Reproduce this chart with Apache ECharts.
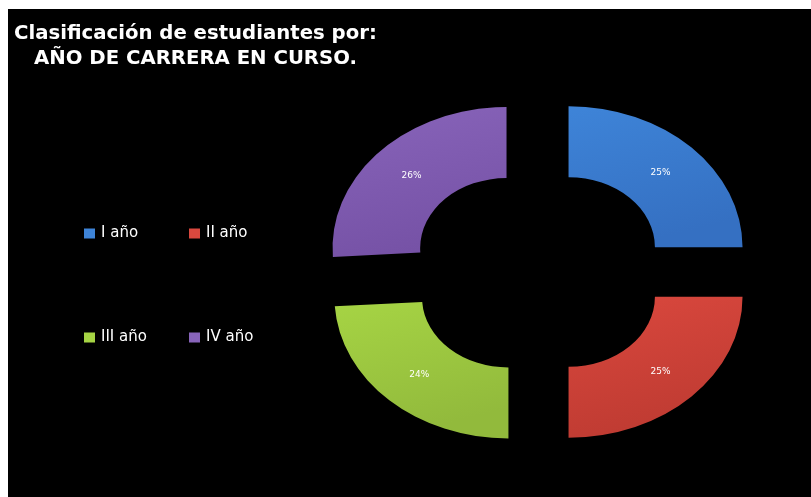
<!DOCTYPE html>
<html><head><meta charset="utf-8">
<script src="https://cdn.jsdelivr.net/npm/echarts@6/dist/echarts.min.js"></script>
<style>
html,body{margin:0;padding:0;background:#fff;width:811px;height:497px;overflow:hidden;}
#c{position:absolute;left:8px;top:9px;width:803px;height:488px;background:#000;}
</style></head>
<body><div id="c"></div>
<script>
const titleLine1 = 'Clasificación de estudiantes por:';
const titleLine2 = 'AÑO DE CARRERA EN CURSO.';
const categories = ['I año', 'II año', 'III año', 'IV año'];
const values = [25, 25, 24, 26];

const palette = [
  ['#3e84d8', '#3570c2'],
  ['#da483e', '#bf3b32'],
  ['#a6d444', '#92ba3c'],
  ['#8864ba', '#7652a6']
];
const CX = 530, CY = 263, R0 = 70, R1 = 141, SX = 1.234, EXPLODE = 35;
const total = values.reduce((a, b) => a + b, 0);

function makeRender(idx) {
  return function (params, api) {
    const v = api.value(0);
    let before = 0;
    for (let i = 0; i < idx; i++) before += values[i];
    const start = -Math.PI / 2 + 2 * Math.PI * before / total;
    const end = start + 2 * Math.PI * v / total;
    const mid = (start + end) / 2;
    const ox = EXPLODE * Math.cos(mid), oy = EXPLODE * Math.sin(mid);
    const rm = (R0 + R1) / 2;
    return {
      type: 'group',
      children: [{
        type: 'sector',
        shape: { cx: CX + ox, cy: CY + oy, r0: R0, r: R1, startAngle: start, endAngle: end, clockwise: true },
        scaleX: SX, originX: CX, originY: CY,
        style: {
          fill: { type: 'linear', x: 0, y: 0, x2: 0.3, y2: 1, colorStops: [
            { offset: 0, color: palette[idx][0] }, { offset: 1, color: palette[idx][1] }] }
        }
      }, {
        type: 'text',
        style: {
          text: Math.round(v / total * 100) + '%',
          x: CX + SX * (ox + rm * Math.cos(mid)),
          y: CY + oy + rm * Math.sin(mid),
          fill: '#ffffff', align: 'center', verticalAlign: 'middle',
          fontSize: 9, fontFamily: 'DejaVu Sans'
        }
      }]
    };
  };
}

const series = categories.map((name, i) => ({
  type: 'custom', name: name, coordinateSystem: 'none',
  itemStyle: { color: palette[i][0] },
  data: [[values[i]]],
  renderItem: makeRender(i)
}));

const legendText = { color: '#ffffff', fontSize: 15, fontFamily: 'DejaVu Sans', padding: [0, 0, 0, 1] };
const titleStyle = { color: '#fff', fontSize: 19.7, fontWeight: 'bold', fontFamily: 'DejaVu Sans' };
const chart = echarts.init(document.getElementById('c'));
chart.setOption({
  backgroundColor: '#000000',
  animation: false,
  color: palette.map(p => p[0]),
  title: [
    { text: titleLine1, left: 1, top: 10, textStyle: titleStyle },
    { text: titleLine2, left: 21, top: 35, textStyle: titleStyle }
  ],
  legend: [
    { data: [categories[0], categories[2]], orient: 'vertical', left: 76, top: 217, itemGap: 89,
      itemWidth: 11, itemHeight: 10, icon: 'rect', textStyle: legendText, padding: 0 },
    { data: [categories[1], categories[3]], orient: 'vertical', left: 181, top: 217, itemGap: 89,
      itemWidth: 11, itemHeight: 10, icon: 'rect', textStyle: legendText, padding: 0 }
  ],
  series: series
});
</script></body></html>
